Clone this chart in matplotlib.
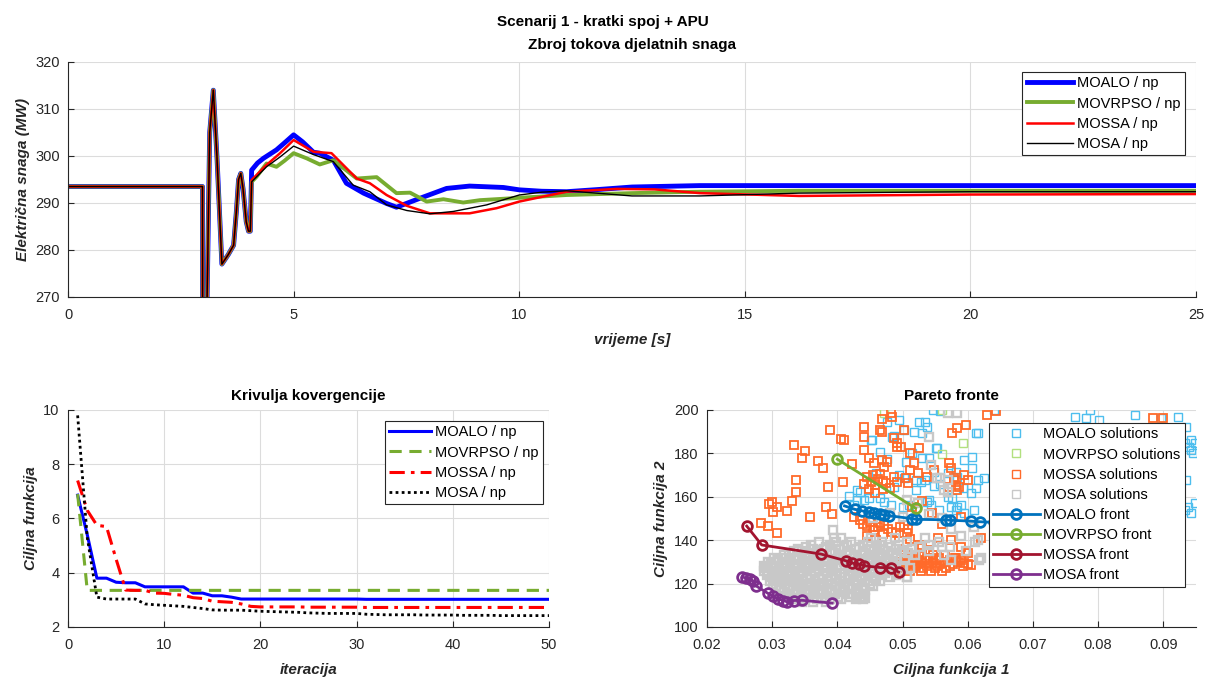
import matplotlib
matplotlib.use('Agg')
import matplotlib.pyplot as plt

plt.rcParams['font.family'] = ['Liberation Sans', 'DejaVu Sans']
plt.rcParams['xtick.direction'] = 'in'
plt.rcParams['ytick.direction'] = 'in'

# --- gornji graf: zbroj tokova djelatnih snaga ---
t_pre = [0, 2.98, 2.985, 3.06, 3.08, 3.14, 3.22, 3.30, 3.41, 3.55, 3.67, 3.73, 3.78, 3.83, 3.88, 3.95, 4.0, 4.04]
p_pre = [293.5, 293.5, 240, 240, 268, 305, 314, 300, 277, 279, 281, 288, 295, 296.3, 293, 286, 284, 284]

t_moalo = [4.07, 4.2, 4.33, 4.62, 4.8, 5.0, 5.2, 5.44, 5.58, 5.88, 6.17, 6.55, 7.06, 7.28, 7.8, 8.39,
           8.9, 9.65, 10.0, 10.5, 11.05, 11.8, 12.5, 14, 16.2, 20, 25]
p_moalo = [297, 298.5, 299.5, 301.3, 302.8, 304.5, 303, 300.8, 300.6, 299.1, 294.2, 292.1, 289.9, 289.1,
           291, 293.1, 293.6, 293.3, 292.8, 292.5, 292.4, 292.9, 293.4, 293.7, 293.7, 293.7, 293.7]

t_movrpso = [4.07, 4.18, 4.4, 4.62, 4.8, 5.0, 5.29, 5.58, 5.88, 6.4, 6.84, 7.28, 7.58, 7.95, 8.32, 8.76,
             9.13, 10.0, 11.05, 12.5, 14, 16.2, 20, 25]
p_movrpso = [294.5, 295.6, 298.4, 297.7, 299, 300.6, 299.5, 298.2, 299.1, 295.2, 295.5, 292.1, 292.2,
             290.3, 290.8, 290.1, 290.6, 291.1, 291.7, 292.1, 292.4, 292.6, 292.6, 292.6]

t_mossa = [4.07, 4.4, 4.7, 5.0, 5.44, 5.84, 6.4, 6.69, 7.06, 7.51, 8.02, 8.9, 9.5, 10.0, 11.05, 12.16,
           13.0, 14.0, 16.2, 20, 25]
p_mossa = [294.9, 298.1, 300.6, 303.4, 300.9, 300.6, 295.2, 294.2, 291.7, 289.4, 287.8, 287.8, 288.9,
           290.3, 292.4, 293.0, 292.9, 292.1, 291.5, 291.8, 291.9]

t_mosa = [4.07, 4.4, 4.7, 5.0, 5.44, 5.88, 6.32, 6.69, 7.06, 7.51, 8.02, 8.54, 9.28, 10.0, 10.5, 11.05,
          12.5, 14, 16.2, 20, 25]
p_mosa = [294.5, 297.7, 299.8, 302.1, 300.3, 298.8, 293.8, 292.4, 289.6, 288.4, 287.7, 288.2, 289.6,
          291.7, 292.3, 292.6, 291.5, 291.5, 292.1, 292.4, 292.4]

# --- krivulje konvergencije (iteracije 1..50) ---
iteracije = list(range(1, 51))
konv_moalo = [6.86, 5.4, 3.8, 3.8, 3.65, 3.63, 3.63, 3.48, 3.48, 3.48, 3.48, 3.48, 3.25, 3.25, 3.15,
              3.15, 3.1, 3.03, 3.03, 3.03, 3.03, 3.03, 3.03, 3.03, 3.03, 3.03, 3.03, 3.03, 3.03, 3.03,
              3.02, 3.02, 3.02, 3.02, 3.02, 3.02, 3.02, 3.02, 3.02, 3.02, 3.02, 3.02, 3.02, 3.02, 3.02,
              3.02, 3.02, 3.02, 3.02, 3.02]
konv_movrpso = [6.9] + [3.35] * 49
konv_mossa = [7.4, 6.3, 5.75, 5.7, 4.5, 3.36, 3.35, 3.35, 3.25, 3.24, 3.2, 3.17, 3.08, 3.05, 2.95,
              2.93, 2.91, 2.85, 2.76, 2.74, 2.74, 2.74, 2.74, 2.74, 2.73, 2.73, 2.73, 2.73, 2.73, 2.73,
              2.72, 2.72, 2.72, 2.72, 2.72, 2.72, 2.72, 2.72, 2.72, 2.72, 2.72, 2.72, 2.72, 2.72, 2.72,
              2.72, 2.72, 2.72, 2.72, 2.72]
konv_mosa = [9.8, 5.3, 3.1, 3.03, 3.03, 3.03, 3.03, 2.85, 2.82, 2.8, 2.78, 2.76, 2.72, 2.68, 2.63,
             2.62, 2.62, 2.62, 2.6, 2.58, 2.57, 2.56, 2.55, 2.54, 2.52, 2.51, 2.5, 2.5, 2.5, 2.5,
             2.47, 2.46, 2.45, 2.45, 2.45, 2.45, 2.44, 2.44, 2.44, 2.44, 2.43, 2.43, 2.43, 2.43, 2.42,
             2.42, 2.42, 2.42, 2.42, 2.42]

# --- Pareto fronte ---
moalo_sol_x = [0.0546, 0.0525, 0.0535, 0.0538, 0.0476, 0.0494, 0.0502, 0.0517, 0.0453, 0.0484, 0.0553,
               0.0530, 0.0540, 0.0515, 0.0607, 0.0615, 0.0607, 0.0548, 0.0569, 0.0494, 0.0502, 0.0487,
               0.0520, 0.0528, 0.0548, 0.0558, 0.0615, 0.0625, 0.0605, 0.0612, 0.0435, 0.0441, 0.0448,
               0.0466, 0.0471, 0.0482, 0.0500, 0.0510, 0.0538, 0.0543, 0.0569, 0.0576, 0.0589, 0.0558,
               0.0640, 0.0612, 0.0594, 0.0451, 0.0487, 0.0466, 0.0476, 0.0430, 0.0430, 0.0584, 0.0594,
               0.0610, 0.0787, 0.0764, 0.0782, 0.0802, 0.0856, 0.0897, 0.0923, 0.0935, 0.0943, 0.0948,
               0.0940, 0.0943, 0.0945, 0.0933, 0.0935, 0.0948, 0.0943, 0.0938, 0.0933, 0.0530, 0.0551,
               0.0582, 0.0584, 0.0592, 0.0574, 0.0582, 0.0556, 0.0540, 0.0520, 0.0535, 0.0505, 0.0460,
               0.0425, 0.0418]
moalo_sol_y = [200.0, 194.6, 194.6, 192.3, 194.6, 195.4, 190.8, 190.0, 186.2, 187.7, 182.4,
               177.7, 177.7, 180.0, 178.5, 189.3, 173.1, 171.6, 170.8, 170.0, 168.5, 164.7,
               163.1, 167.0, 165.0, 165.8, 167.7, 168.5, 161.6, 163.9, 162.4, 158.5, 159.3,
               159.3, 157.7, 156.2, 155.4, 156.2, 157.7, 156.2, 160.0, 159.3, 156.2, 199.7,
               200.0, 189.3, 177.0, 186.2, 188.0, 180.5, 177.5, 163.1, 158.5, 155.4, 152.4,
               153.9, 200.0, 196.9, 196.2, 195.4, 197.7, 196.2, 196.9, 192.3, 186.2, 184.7,
               183.1, 181.6, 180.0, 184.7, 167.7, 157.0, 152.4, 155.4, 153.9, 189.3, 182.4,
               171.6, 169.3, 163.9, 155.4, 153.9, 153.9, 158.5, 167.7, 167.7, 176.0, 171.0,
               156.0, 160.5]

movrpso_sol_x = [0.0471, 0.0561, 0.0593, 0.0561]
movrpso_sol_y = [198.5, 199.8, 185.0, 179.8]

mossa_sol_x = [0.0389, 0.0406, 0.0333, 0.0350, 0.0345, 0.0371, 0.0378, 0.0336, 0.0385, 0.0408, 0.0337,
               0.0331, 0.0300, 0.0295, 0.0307, 0.0323, 0.0301, 0.0382, 0.0392, 0.0358, 0.0283, 0.0294,
               0.0307, 0.0423,
               0.0441, 0.0441, 0.0469, 0.0469, 0.0483, 0.0484, 0.0441, 0.0456, 0.0469, 0.0471, 0.0492,
               0.0497, 0.0502, 0.0525, 0.0512, 0.0517, 0.0512, 0.0548, 0.0571, 0.0576, 0.0584, 0.0597,
               0.0630, 0.0579, 0.0587, 0.0571, 0.0600, 0.0410, 0.0466, 0.0487, 0.0492, 0.0448, 0.0476,
               0.0574, 0.0579, 0.0582, 0.0584, 0.0594, 0.0505, 0.0508, 0.0523, 0.0487, 0.0492, 0.0538,
               0.0884, 0.0899, 0.0643,
               0.0446, 0.0452, 0.0458, 0.0463, 0.0470, 0.0475, 0.0449, 0.0466, 0.0480, 0.0457, 0.0441,
               0.0455, 0.0470,
               0.0435, 0.0445, 0.0456, 0.0466, 0.0478, 0.0490, 0.0502, 0.0507, 0.0425, 0.0455, 0.0470,
               0.0495, 0.0512, 0.0525, 0.0540, 0.0555, 0.0574, 0.0589, 0.0600, 0.0580, 0.0530, 0.0530,
               0.0545, 0.0560, 0.0590, 0.0610, 0.0620, 0.0515, 0.0445, 0.0460,
               0.0440, 0.0450, 0.0462, 0.0472, 0.0484, 0.0496, 0.0508,
               0.0498, 0.0512, 0.0530, 0.0546, 0.0565, 0.0503, 0.0518, 0.0535, 0.0551, 0.0572, 0.0590,
               0.0497, 0.0509, 0.0524, 0.0540, 0.0557, 0.0578, 0.0600, 0.0501, 0.0516, 0.0532, 0.0549,
               0.0567, 0.0605, 0.0594,
               0.0505, 0.0521, 0.0538, 0.0556, 0.0582,
               0.0500, 0.0514, 0.0530, 0.0546, 0.0563, 0.0585,
               0.0506, 0.0520, 0.0537, 0.0553, 0.0572, 0.0592,
               0.0498, 0.0512, 0.0528, 0.0544, 0.0560]
mossa_sol_y = [190.8, 186.5, 183.9, 181.3, 177.7, 176.6, 173.1, 167.7, 164.7, 167.0, 162.4,
               158.1, 157.7, 156.5, 155.2, 153.5, 152.9, 155.2, 151.9, 150.7, 148.1, 146.7,
               143.2, 175.1,
               192.3, 187.7, 195.7, 190.0, 198.5, 196.9, 181.6, 175.4, 177.0, 173.9, 184.7,
               183.1, 190.8, 182.4, 180.0, 175.4, 172.4, 172.4, 175.4, 189.3, 191.6, 193.1,
               197.7, 167.7, 164.7, 164.7, 167.7, 186.2, 190.8, 187.0, 183.1, 177.7, 176.2,
               173.1, 168.5, 165.4, 163.1, 170.0, 168.5, 166.2, 170.8, 169.3, 167.0, 169.3,
               196.2, 196.2, 199.5,
               169.3, 167.0, 165.2, 168.0, 163.5, 166.5, 163.8, 170.5, 164.2, 161.8, 165.7,
               170.0, 167.5,
               149.3, 146.5, 144.5, 148.0, 145.2, 143.5, 147.2, 143.2, 150.8, 146.2, 143.0,
               139.5, 140.5, 138.0, 135.5, 141.0, 140.1, 137.0, 134.0, 132.0, 136.5, 158.0,
               152.5, 147.5, 150.5, 146.0, 141.0, 155.5, 142.0, 140.0,
               147.5, 148.5, 146.0, 147.0, 144.0, 146.0, 145.0,
               133, 133, 133, 133, 133, 131, 131, 131, 131, 131, 131,
               129, 129, 129, 129, 129, 129, 129, 127, 127, 127, 127,
               127, 128.6, 129.5,
               132, 132, 132, 132, 132,
               130, 130, 130, 130, 130, 130,
               128, 128, 128, 128, 128, 128,
               126, 126, 126, 126, 126]

# MOSA rjesenja: gusti oblak (po redovima) + rasuta rjesenja
mosa_sol_x = [0.0395, 0.0405, 0.0452, 0.0488, 0.0535,
              0.0372, 0.0398, 0.0421, 0.0447, 0.0469, 0.0507, 0.0556, 0.0611,
              0.0352, 0.0383, 0.0410, 0.0433, 0.0461, 0.0482, 0.0525, 0.0572,
              0.0333, 0.0345, 0.0368, 0.0392, 0.0415, 0.0439, 0.0456, 0.0478, 0.0499, 0.0541, 0.0598,
              0.0318, 0.0356, 0.0377, 0.0401, 0.0426, 0.0448, 0.0470, 0.0492, 0.0519, 0.0563,
              0.0309, 0.0327, 0.0341, 0.0362, 0.0386, 0.0409, 0.0431, 0.0452, 0.0474, 0.0503, 0.0617,
              0.0298, 0.0316, 0.0334, 0.0350, 0.0371, 0.0393, 0.0418, 0.0441, 0.0463, 0.0486,
              0.0290, 0.0305, 0.0322, 0.0339, 0.0357, 0.0379, 0.0400, 0.0422, 0.0445, 0.0468, 0.0490, 0.0512,
              0.0294, 0.0311, 0.0328, 0.0346, 0.0365, 0.0384, 0.0406, 0.0429, 0.0451, 0.0473, 0.0495,
              0.0300, 0.0317, 0.0335, 0.0353, 0.0372, 0.0391, 0.0412, 0.0434, 0.0457, 0.0481, 0.0507,
              0.0297, 0.0313, 0.0330, 0.0348, 0.0366, 0.0385, 0.0404, 0.0425, 0.0447, 0.0466,
              0.0306, 0.0324, 0.0342, 0.0360, 0.0379, 0.0398, 0.0418, 0.0438, 0.0455,
              0.0314, 0.0332, 0.0351, 0.0370, 0.0389, 0.0409, 0.0428, 0.0443,
              0.0322, 0.0340, 0.0358, 0.0377, 0.0396, 0.0416, 0.0433,
              0.0331, 0.0350, 0.0369, 0.0388, 0.0405, 0.0428, 0.0440,
              0.0345, 0.0362, 0.0382,
              0.0360, 0.0388, 0.0415, 0.0440, 0.0465, 0.0495, 0.0540,
              0.0340, 0.0362, 0.0380, 0.0404, 0.0428, 0.0450, 0.0470, 0.0490, 0.0515,
              0.0326, 0.0350, 0.0372, 0.0396, 0.0420, 0.0443, 0.0465, 0.0485, 0.0508,
              0.0303, 0.0320, 0.0337, 0.0355, 0.0380, 0.0403, 0.0425, 0.0447, 0.0468, 0.0490,
              0.0293, 0.0310, 0.0328, 0.0345, 0.0365, 0.0386, 0.0410, 0.0432, 0.0455, 0.0478,
              0.0288, 0.0300, 0.0316, 0.0333, 0.0350, 0.0368, 0.0390, 0.0411, 0.0434, 0.0457, 0.0480, 0.0500,
              0.0287, 0.0302, 0.0318, 0.0335, 0.0353, 0.0372, 0.0394, 0.0416, 0.0438, 0.0462, 0.0484,
              0.0292, 0.0307, 0.0324, 0.0341, 0.0359, 0.0378, 0.0398, 0.0420, 0.0442, 0.0466, 0.0490,
              0.0305, 0.0322, 0.0340, 0.0358, 0.0377, 0.0396, 0.0416, 0.0438, 0.0460,
              0.0302, 0.0320, 0.0337, 0.0355, 0.0373, 0.0392, 0.0412, 0.0432, 0.0450,
              0.0310, 0.0328, 0.0346, 0.0365, 0.0384, 0.0404, 0.0423, 0.0440,
              0.0318, 0.0336, 0.0354, 0.0373, 0.0392, 0.0412, 0.0430,
              0.0327, 0.0345, 0.0364, 0.0383, 0.0401, 0.0420, 0.0437,
              0.0540, 0.0569, 0.0584, 0.0543, 0.0558, 0.0569, 0.0507, 0.0523, 0.0553, 0.0564, 0.0569,
              0.0610, 0.0615, 0.0620, 0.0394, 0.0540, 0.0560, 0.0500, 0.0480, 0.0455, 0.0575, 0.0590,
              0.0507, 0.0435, 0.0443, 0.0410, 0.0431, 0.0575, 0.0560]
mosa_sol_y = [141, 141, 141, 141, 141,
              139, 139, 139, 139, 139, 139, 139, 139,
              137, 137, 137, 137, 137, 137, 137, 137,
              135, 135, 135, 135, 135, 135, 135, 135, 135, 135, 135,
              133, 133, 133, 133, 133, 133, 133, 133, 133, 133,
              131, 131, 131, 131, 131, 131, 131, 131, 131, 131, 131,
              129, 129, 129, 129, 129, 129, 129, 129, 129, 129,
              127, 127, 127, 127, 127, 127, 127, 127, 127, 127, 127, 127,
              125, 125, 125, 125, 125, 125, 125, 125, 125, 125, 125,
              123, 123, 123, 123, 123, 123, 123, 123, 123, 123, 123,
              121, 121, 121, 121, 121, 121, 121, 121, 121, 121,
              119, 119, 119, 119, 119, 119, 119, 119, 119,
              117, 117, 117, 117, 117, 117, 117, 117,
              115, 115, 115, 115, 115, 115, 115,
              113, 113, 113, 113, 113, 113, 113,
              111.5, 111.5, 111.5,
              138, 138, 138, 138, 138, 138, 138,
              136, 136, 136, 136, 136, 136, 136, 136, 136,
              134, 134, 134, 134, 134, 134, 134, 134, 134,
              132, 132, 132, 132, 132, 132, 132, 132, 132, 132,
              130, 130, 130, 130, 130, 130, 130, 130, 130, 130,
              128, 128, 128, 128, 128, 128, 128, 128, 128, 128, 128, 128,
              126, 126, 126, 126, 126, 126, 126, 126, 126, 126, 126,
              124, 124, 124, 124, 124, 124, 124, 124, 124, 124, 124,
              122, 122, 122, 122, 122, 122, 122, 122, 122,
              120, 120, 120, 120, 120, 120, 120, 120, 120,
              118, 118, 118, 118, 118, 118, 118, 118,
              116, 116, 116, 116, 116, 116, 116,
              114, 114, 114, 114, 114, 114, 114,
              187.7, 198.5, 198.5, 174.7, 168.5, 167.7, 158.5, 157.0, 168.5, 163.1, 162.4,
              146.0, 140.0, 132.0, 144.7, 152.0, 150.0, 150.5, 152.5, 150.0, 145.0, 142.0,
              123.2, 114.0, 113.2, 118.6, 115.5, 131.0, 137.0]

moalo_front_x = [0.0411, 0.0427, 0.0438, 0.0448, 0.0456, 0.0466, 0.0471, 0.0479, 0.0515, 0.0521,
                 0.0566, 0.0572, 0.0605, 0.0618, 0.0640]
moalo_front_y = [155.8, 154.2, 153.5, 153.0, 152.5, 152.0, 151.6, 151.3, 149.9, 149.6,
                 149.4, 149.2, 148.8, 148.5, 148.2]
movrpso_front_x = [0.0400, 0.0520]
movrpso_front_y = [177.3, 154.7]
mossa_front_x = [0.0261, 0.0284, 0.0375, 0.0413, 0.0422, 0.0433, 0.0441, 0.0466, 0.0482, 0.0494]
mossa_front_y = [146.5, 137.8, 133.6, 130.5, 129.5, 128.9, 128.2, 127.4, 127.3, 125.3]
mosa_front_x = [0.0254, 0.0260, 0.0266, 0.0271, 0.0275, 0.0293, 0.0301, 0.0309, 0.0317, 0.0323,
                0.0333, 0.0346, 0.0392]
mosa_front_y = [123.0, 122.6, 122.2, 121.2, 119.0, 115.6, 114.2, 113.0, 112.2, 111.6,
                112.2, 112.3, 111.0]

TXT = '#262626'
GRID = '#dcdcdc'


def style_axes(ax):
    ax.grid(True, color=GRID, linewidth=0.8)
    ax.set_axisbelow(True)
    for s in ['top', 'right']:
        ax.spines[s].set_visible(False)
    for s in ['left', 'bottom']:
        ax.spines[s].set_color(TXT)
    ax.tick_params(colors=TXT, labelsize=10.5, length=4)
    ax.tick_params(axis='x', pad=8)
    ax.tick_params(axis='y', pad=6)


def make_legend(ax, anchor, hl):
    leg = ax.legend(loc='upper right', bbox_to_anchor=anchor, borderaxespad=0, fontsize=10.5,
                    handlelength=hl, handletextpad=0.25, labelspacing=0.42, borderpad=0.3,
                    fancybox=False, edgecolor=TXT, framealpha=1)
    leg.get_frame().set_linewidth(0.8)
    return leg


def axis_labels(ax, xl, yl):
    ax.set_xlabel(xl, fontsize=11, fontweight='bold', style='italic', color=TXT, labelpad=8)
    ax.set_ylabel(yl, fontsize=11, fontweight='bold', style='italic', color=TXT)


fig = plt.figure(figsize=(12.06, 6.79), dpi=100)
fig.text(0.5, 0.968, 'Scenarij 1 - kratki spoj + APU', ha='center', va='center',
         fontsize=11, fontweight='bold', color='black')

# gornji graf
ax1 = fig.add_axes([0.0564, 0.5626, 0.9353, 0.3461])
ax1.plot(t_pre + t_moalo, p_pre + p_moalo, color='#0000FF', lw=3.5, label='MOALO / np')
ax1.plot(t_pre + t_movrpso, p_pre + p_movrpso, color='#77AC30', lw=2.8, label='MOVRPSO / np')
ax1.plot(t_pre + t_mossa, p_pre + p_mossa, color='#FF0000', lw=1.8, label='MOSSA / np')
ax1.plot(t_pre + t_mosa, p_pre + p_mosa, color='black', lw=1.0, label='MOSA / np')
ax1.set_xlim(0, 25)
ax1.set_ylim(270, 320)
ax1.set_xticks([0, 5, 10, 15, 20, 25])
ax1.set_yticks([270, 280, 290, 300, 310, 320])
style_axes(ax1)
ax1.set_title('Zbroj tokova djelatnih snaga', fontsize=11, fontweight='bold', pad=9)
axis_labels(ax1, 'vrijeme [s]', 'Električna snaga (MW)')
make_legend(ax1, (0.990, 0.957), 3.2)

# donji lijevi graf
ax2 = fig.add_axes([0.0564, 0.0766, 0.3988, 0.3196])
ax2.plot(iteracije, konv_moalo, color='#0000FF', lw=2.2, ls='-', label='MOALO / np')
ax2.plot(iteracije, konv_movrpso, color='#77AC30', lw=2.2, ls=(0, (4, 2.5)), label='MOVRPSO / np')
ax2.plot(iteracije, konv_mossa, color='#FF0000', lw=2.2, ls=(0, (5, 2, 1.2, 2)), label='MOSSA / np')
ax2.plot(iteracije, konv_mosa, color='black', lw=2.0, ls=(0, (1, 1.2)), label='MOSA / np')
ax2.set_xlim(0, 50)
ax2.set_ylim(2, 10)
ax2.set_xticks([0, 10, 20, 30, 40, 50])
ax2.set_yticks([2, 4, 6, 8, 10])
style_axes(ax2)
ax2.set_title('Krivulja kovergencije', fontsize=11, fontweight='bold', pad=7)
axis_labels(ax2, 'iteracija', 'Ciljna funkcija')
make_legend(ax2, (0.9875, 0.949), 2.9)

# donji desni graf
ax3 = fig.add_axes([0.5862, 0.0766, 0.4055, 0.3196])
ms_sol = 6
ax3.plot(moalo_sol_x, moalo_sol_y, 's', mfc='none', mec='#4DBEEE', ms=ms_sol, mew=1.0,
         label='MOALO solutions')
ax3.plot(movrpso_sol_x, movrpso_sol_y, 's', mfc='none', mec='#B2E07F', ms=ms_sol, mew=1.0,
         label='MOVRPSO solutions')
ax3.plot(mossa_sol_x, mossa_sol_y, 's', mfc='none', mec='#FF6A2A', ms=ms_sol, mew=1.3,
         label='MOSSA solutions')
ax3.plot(mosa_sol_x, mosa_sol_y, 's', mfc='none', mec='#C8C8C8', ms=ms_sol, mew=1.7,
         label='MOSA solutions')
front_style = dict(marker='o', mfc='none', ms=7, mew=2, lw=2)
ax3.plot(moalo_front_x, moalo_front_y, color='#0072BD', label='MOALO front', **front_style)
ax3.plot(movrpso_front_x, movrpso_front_y, color='#77AC30', label='MOVRPSO front', **front_style)
ax3.plot(mossa_front_x, mossa_front_y, color='#A2142F', label='MOSSA front', **front_style)
ax3.plot(mosa_front_x, mosa_front_y, color='#7E2F8E', label='MOSA front', **front_style)
ax3.set_xlim(0.02, 0.095)
ax3.set_ylim(100, 200)
ax3.set_xticks([0.02, 0.03, 0.04, 0.05, 0.06, 0.07, 0.08, 0.09])
ax3.set_xticklabels(['0.02', '0.03', '0.04', '0.05', '0.06', '0.07', '0.08', '0.09'])
ax3.set_yticks([100, 120, 140, 160, 180, 200])
style_axes(ax3)
ax3.set_title('Pareto fronte', fontsize=11, fontweight='bold', pad=7)
axis_labels(ax3, 'Ciljna funkcija 1', 'Ciljna funkcija 2')
leg3 = make_legend(ax3, (0.9775, 0.94), 3.2)
for h in leg3.legend_handles[:4]:
    h.set_markeredgewidth(1.0)

fig.savefig('out.png', dpi=100)
